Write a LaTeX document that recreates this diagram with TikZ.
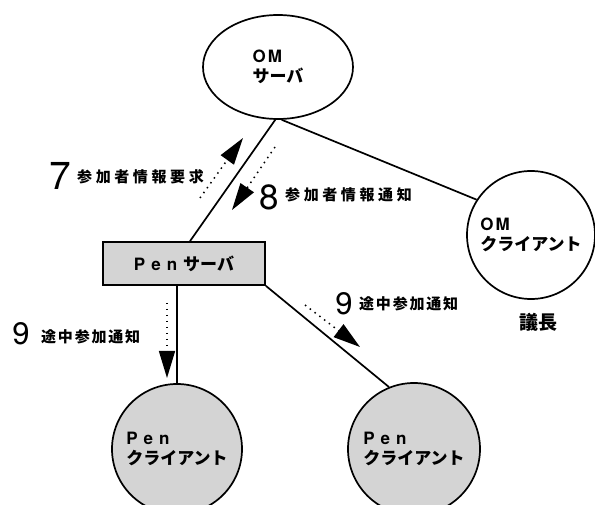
\documentclass[tikz,border=0pt]{standalone}
\usepackage{fontspec}
\setmainfont{TeX Gyre Heros}
\newfontfamily\jp{Noto Sans CJK JP}
\newfontfamily\jpwide[LetterSpace=24]{Noto Sans CJK JP}
\newfontfamily\jpmid[LetterSpace=12]{Noto Sans CJK JP}
\usetikzlibrary{shapes.geometric,arrows.meta}
\newcommand{\penword}{P\hspace{6pt}e\hspace{6pt}n}
\begin{document}
\begin{tikzpicture}[x=1pt,y=-1pt,
  conn/.style={line width=1.7pt},
  srv/.style={ellipse,draw,line width=1.7pt,minimum width=150pt,minimum height=104pt,inner sep=0pt,align=left,font=\fontsize{17}{20}\selectfont\bfseries},
  cli/.style={circle,draw,line width=1.7pt,minimum size=128pt,inner sep=0pt,align=left,font=\fontsize{17}{20}\selectfont\bfseries},
  shade/.style={fill=black!17},
  msg/.style={line width=1.5pt,dash pattern=on 1.5pt off 4.5pt,-{Triangle[length=27pt,width=16pt]}},
  digit/.style={inner sep=0pt,font=\fontsize{#1}{#1}\selectfont},
  wlabel/.style={inner sep=0pt,anchor=west,font=\fontsize{15}{17}\selectfont\bfseries}
]
\useasboundingbox (0,0) rectangle (595,505);
% nodes
\node[srv] (oms) at (278,67) {O\hspace{2pt}M\\{\jp サーバ}};
\node[cli,minimum size=128pt] (omc) at (531,235) {O\hspace{2pt}M\\{\jp クライアント}};
\node[draw,shade,line width=1.7pt,minimum width=162pt,minimum height=43pt,inner sep=0pt,font=\fontsize{17}{20}\selectfont\bfseries] (pens) at (184,263.5) {\penword\hspace{6pt}{\jp サーバ}};
\node[cli,shade,minimum size=130pt] (pc1) at (177,449) {\penword\\{\jp クライアント}};
\node[cli,shade,minimum size=132pt] (pc2) at (414,449) {\penword\\{\jp クライアント}};
\node[inner sep=0pt,font=\fontsize{19}{21}\selectfont\bfseries] (chair) at (538,322) {\jp 議長};
% connectors
\draw[conn] (oms.-93) -- ([xshift=6pt]pens.north);
\draw[conn] (oms.-86) -- (omc.147);
\draw[conn] (pc1.north |- pens.south) -- (pc1.north);
\draw[conn] (pens.south east) -- (pc2.112);
% message arrows
\coordinate (a7s) at (200,198); \coordinate (a7e) at (243,138);
\coordinate (a8s) at (275,147); \coordinate (a8e) at (232,210);
\coordinate (a9ls) at (167,303); \coordinate (a9le) at (167,378);
\coordinate (a9rs) at (305,305); \coordinate (a9re) at (360,347);
\draw[msg] (a7s) -- (a7e);
\draw[msg] (a8s) -- (a8e);
\draw[msg] (a9ls) -- (a9le);
\draw[msg] (a9rs) -- (a9re);
% labels
\node[digit=39] (d7) at (60,176) {7};
\node[wlabel] (t7) at (77,177) {\jpwide 参加者情報要求};
\node[digit=35] (d8) at (269,197) {8};
\node[wlabel] (t8) at (285,195) {\jpwide 参加者情報通知};
\node[digit=31] (d9r) at (344,304) {9};
\node[wlabel] (t9r) at (359,304) {\jpmid 途中参加通知};
\node[digit=31] (d9l) at (21,334) {9};
\node[wlabel] (t9l) at (41,337) {\jpmid 途中参加通知};
\end{tikzpicture}
\end{document}
